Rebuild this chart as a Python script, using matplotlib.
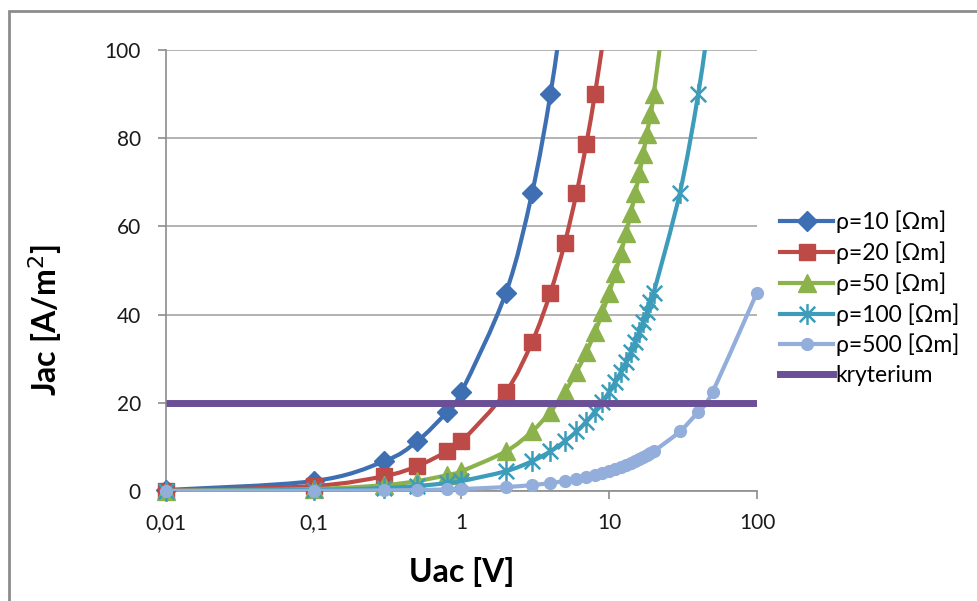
import numpy as np
import matplotlib
matplotlib.use("Agg")
import matplotlib.pyplot as plt
from matplotlib.path import Path
from matplotlib.patches import PathPatch, Rectangle
from matplotlib.lines import Line2D

plt.rcParams["font.family"] = ["Lato", "DejaVu Sans"]

# voltage points (shared by all series)
uac = [0.01, 0.1, 0.3, 0.5, 0.8, 1, 2, 3, 4, 5, 6, 7, 8, 9, 10, 11, 12, 13, 14,
       15, 16, 17, 18, 19, 20, 30, 40, 50, 100]

# current density per resistivity (values above 100 run off the top)
j_rho10 = [0.225, 2.25, 6.75, 11.25, 18, 22.5, 45, 67.5, 90, 112.5]
j_rho20 = [0.11, 1.13, 3.38, 5.63, 9, 11.25, 22.5, 33.75, 45, 56.25, 67.5, 78.75,
           90, 101.25]
j_rho50 = [0.05, 0.45, 1.35, 2.25, 3.6, 4.5, 9, 13.5, 18, 22.5, 27, 31.5, 36, 40.5,
           45, 49.5, 54, 58.5, 63, 67.5, 72, 76.5, 81, 85.5, 90, 135]
j_rho100 = [0.02, 0.23, 0.68, 1.13, 1.8, 2.25, 4.5, 6.75, 9, 11.25, 13.5, 15.75,
            18, 20.25, 22.5, 24.75, 27, 29.25, 31.5, 33.75, 36, 38.25, 40.5,
            42.75, 45, 67.5, 90, 112.5]
j_rho500 = [0.0045, 0.045, 0.135, 0.225, 0.36, 0.45, 0.9, 1.35, 1.8, 2.25, 2.7,
            3.15, 3.6, 4.05, 4.5, 4.95, 5.4, 5.85, 6.3, 6.75, 7.2, 7.65, 8.1, 8.55,
            9, 13.5, 18, 22.5, 45]

criterion_u = [0.01, 100]
criterion_j = [20, 20]

labels = ["ρ=10 [Ωm]", "ρ=20 [Ωm]", "ρ=50 [Ωm]", "ρ=100 [Ωm]", "ρ=500 [Ωm]"]
colors = ["#3E6FB2", "#BD4A47", "#8CB24C", "#3C9CBA", "#93AEDA"]
criterion_color = "#6B4F96"

star = Path([(-1, -1), (1, 1), (-1, 1), (1, -1), (0, -1.35), (0, 1.35)],
            [Path.MOVETO, Path.LINETO, Path.MOVETO, Path.LINETO, Path.MOVETO, Path.LINETO])
markers = [("D", 10), ("s", 12), ("^", 13), (star, 15), ("o", 8.5)]


def smooth_path(x, y):
    # Excel-like smoothed line: cubic Bezier through the points, built in log-x space
    lx = np.log10(np.asarray(x, float))
    ly = np.asarray(y, float)
    pts = np.column_stack([lx, ly])
    verts = [pts[0]]
    codes = [Path.MOVETO]
    n = len(pts)
    for i in range(n - 1):
        p0 = pts[i - 1] if i > 0 else pts[i]
        p1 = pts[i]
        p2 = pts[i + 1]
        p3 = pts[i + 2] if i + 2 < n else pts[i + 1]
        c1 = p1 + (p2 - p0) / 6.0
        c2 = p2 - (p3 - p1) / 6.0
        verts += [c1, c2, p2]
        codes += [Path.CURVE4] * 3
    verts = np.array(verts)
    verts[:, 0] = 10 ** verts[:, 0]
    return Path(verts, codes)


fig = plt.figure(figsize=(9.78, 6.01), dpi=100)
ax = fig.add_axes([166 / 978, 1 - 491 / 601, (757 - 166) / 978, (491 - 50) / 601])
ax.set_xscale("log")
ax.set_xlim(0.01, 100)
ax.set_ylim(0, 100)

series = [j_rho10, j_rho20, j_rho50, j_rho100, j_rho500]
handles = []
for k, (jv, col, (mk, ms), lab) in enumerate(zip(series, colors, markers, labels)):
    u = uac[:len(jv)]
    patch = PathPatch(smooth_path(u, jv), fill=False, edgecolor=col, lw=3,
                      zorder=3 + 2 * k, capstyle="round", joinstyle="round")
    ax.add_patch(patch)
    jm = np.array(jv, float)
    jm[jm > 100] = np.nan
    mew = 1.8 if mk is star else 1.0
    ax.plot(u, jm, linestyle="none", marker=mk, markersize=ms, color=col,
            markeredgecolor=col, markeredgewidth=mew, clip_on=False, zorder=4 + 2 * k)
    handles.append(Line2D([], [], color=col, lw=3, marker=mk, markersize=ms,
                          markeredgecolor=col, markeredgewidth=mew, label=lab))

ax.plot(criterion_u, criterion_j, color=criterion_color, lw=5, zorder=20,
        solid_capstyle="butt")
handles.append(Line2D([], [], color=criterion_color, lw=5, label="kryterium"))

ax.set_yticks([0, 20, 40, 60, 80, 100])
ax.set_xticks([0.01, 0.1, 1, 10, 100])
ax.set_xticklabels(["0,01", "0,1", "1", "10", "100"])
ax.xaxis.set_minor_locator(matplotlib.ticker.NullLocator())
ax.yaxis.grid(True, color="#A6A6A6", lw=1.2)
ax.set_axisbelow(True)
for s in ["top", "right"]:
    ax.spines[s].set_visible(False)
for s in ["left", "bottom"]:
    ax.spines[s].set_color("#8C8C8C")
    ax.spines[s].set_linewidth(1.2)
ax.tick_params(axis="both", direction="out", length=6, width=1.2, color="#8C8C8C",
               labelsize=15, labelcolor="#1a1a1a")
ax.tick_params(axis="y", pad=12)
ax.tick_params(axis="x", pad=10)

ax.set_xlabel("Uac [V]", fontsize=23, fontweight="bold")
ax.set_ylabel("Jac [A/m$^2$]", fontsize=23, fontweight="bold")
ax.xaxis.set_label_coords(0.5, (491 - 572) / 441)
ax.xaxis.label.set_va("center")
ax.yaxis.set_label_coords((45 - 166) / 591, (491 - 320) / 441)
ax.yaxis.label.set_va("center")

fig.legend(handles=handles, loc="center left", bbox_to_anchor=(771 / 978, 1 - 298 / 601),
           frameon=False, fontsize=16.5, handlelength=2.3, handletextpad=0.12,
           labelspacing=0.36, borderaxespad=0)

fig.patches.append(Rectangle((9 / 978, -0.2), 1.2, 1.2 - 11 / 601, transform=fig.transFigure,
                             fill=False, edgecolor="#8C8C8C", lw=2))

fig.savefig("out.png", dpi=100)
